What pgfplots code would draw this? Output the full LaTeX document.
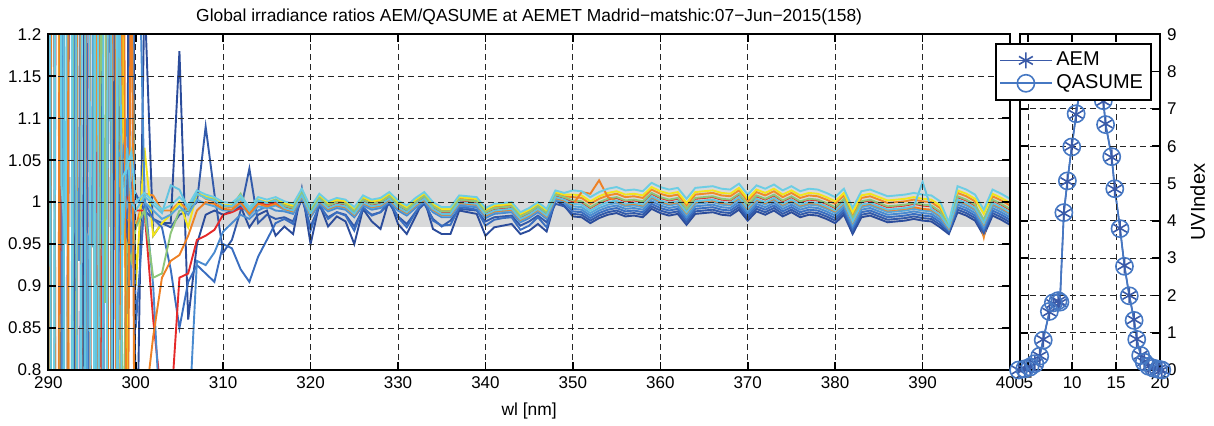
\documentclass[border=0pt]{standalone}
\usepackage{fontspec}
\setmainfont{Liberation Sans}
\usepackage{pgfplots}
\usepackage{pgfplotstable}
\pgfplotsset{compat=1.18}
\definecolor{c1}{RGB}{43,76,155}
\definecolor{c2}{RGB}{50,90,170}
\definecolor{c3}{RGB}{58,110,192}
\definecolor{c4}{RGB}{74,139,208}
\definecolor{c5}{RGB}{85,165,218}
\definecolor{c6}{RGB}{98,195,224}
\definecolor{c7}{RGB}{108,205,228}
\definecolor{c8}{RGB}{141,198,122}
\definecolor{c9}{RGB}{243,229,28}
\definecolor{c10}{RGB}{240,138,42}
\definecolor{c11}{RGB}{238,128,36}
\definecolor{c12}{RGB}{229,42,42}
\definecolor{bandgray}{RGB}{216,217,218}
\definecolor{uvA}{RGB}{58,90,168}
\definecolor{uvQ}{RGB}{70,120,195}

\pgfplotstableread{
wl a b c d e f g h i j k l
290 -0.5 2.4 -0.3 2.6 -0.6 2.3 -0.4 2.5 -0.2 2.2 -0.5 2.7
290.5 2.5 -0.4 -0.6 2.3 2.2 -0.5 -0.2 -0.3 2.6 2.5 2.4 -0.4
291 2.8 -0.6 2.5 -0.5 -0.3 2.6 2.7 -0.5 2.3 -0.4 -0.3 2.2
291.5 -0.3 2.6 2.2 0.6 -0.5 2.9 1.02 2.3 -0.5 -0.6 2.6 0.878
292 -0.6 2.2 -0.4 2.5 2.7 -0.4 0.95 2.6 -0.4 2.4 2.5 -0.5
292.5 2.2 -0.5 2.6 2.7 2.4 -0.2 2.5 -0.6 2.5 -0.3 -0.4 2.4
293 2.6 1.02 -0.5 0.97 -0.6 2.4 -0.5 2.2 -0.6 2.7 -0.6 2.6
293.5 -0.4 -0.3 -0.2 0.93 2.3 -0.6 -0.6 -0.4 2.8 2.5 2.3 -0.3
294 0.95 2.5 2.4 2.2 -0.4 -0.3 2.3 -0.2 2.2 -0.5 -0.5 -0.6
294.5 2.4 2.8 0.9 -0.4 0.96 2.7 2.6 2.7 -0.3 -0.2 2.8 2.5
295 -0.5 -0.2 -0.6 -0.6 0.95 2.2 -0.4 2.4 -0.5 2.3 -0.2 -0.4
295.5 -0.2 -0.6 0.91 2.4 2.6 0.7 2.2 -0.5 2.4 0.75 -0.4 1.06
296 2.7 2.3 0.93 2.8 -0.5 -0.5 -0.5 1.35 -0.4 2.6 2.5 0.95
296.5 2.1 -0.4 2.5 -0.2 -0.2 2.5 -0.3 0.88 2.6 -0.4 2.7 -0.5
297 -0.4 -0.5 -0.3 1.7 2.5 2.3 2.4 2.6 2.3 -0.5 -0.3 2.3
297.5 1.05 2.6 2.2 -0.5 2.1 -0.4 2.8 -0.4 -0.6 2.2 2.4 2.6
298 2.3 1.9 0.94 1.06 0.6 1.35 0.3 1.45 0.4 1.0 -0.6 1.3
298.5 -0.6 0.5 1.05 1.05 0.97 0.95 1.03 0.7 1.25 1.14 1.7 0.97
299 0.9 1.05 0.98 1.1 1.0 1.065 1.04 0.95 0.7 0.98 0.5 1.0
299.5 2.0 0.95 1.3 0.9 0.98 1.0 1.06 0.93 1.3 1.0 1.4 1.02
300 0.6 1.01 0.85 1.5 1.0 0.99 1.0 0.97 0.9 0.97 0.4 0.99
301 1.25 0.99 1.00 1.01 1.00 1.007 1.011 0.99 1.065 1.01 0.75 0.99
302 0.96 0.98 0.98 0.90 0.99 0.997 1.001 0.91 0.96 1.008 0.84 0.86
303 0.975 0.975 0.97 0.70 0.98 0.987 0.991 0.915 0.975 0.99 0.91 0.76
304 0.975 0.97 0.92 0.70 0.985 1.02 0.996 0.963 0.985 0.99 0.93 0.75
305 1.18 0.985 0.85 0.75 0.995 1.015 1.006 0.99 1.0 1.0 0.937 0.91
306 0.86 0.99 0.905 0.72 0.985 0.992 0.996 0.99 0.97 0.99 0.96 0.915
307 0.95 1.0 0.925 0.93 1.003 1.01 1.014 1.01 1.01 1.012 0.99 0.955
308 0.985 1.09 0.915 0.925 0.998 1.005 1.009 1.005 1.007 1.004 1.0 0.96
309 0.99 1.01 0.905 0.94 0.995 1.002 1.006 1.003 1.004 1.001 0.998 0.967
310 0.985 0.94 0.95 0.965 0.99 0.996 1.0 0.995 0.997 0.995 0.992 0.985
311 0.99 0.955 0.945 0.975 0.99 0.995 0.999 0.995 0.996 0.994 0.991 0.988
312 0.995 0.99 0.92 0.985 0.998 1.004 1.008 1.01 1.005 1.004 1.0 0.993
313 0.97 1.04 0.905 0.98 0.984 0.99 0.994 0.99 0.991 0.989 0.986 0.99
314 0.985 0.975 0.935 0.99 0.995 1.002 1.006 1.002 1.003 1.002 0.998 1.0
315 0.99 0.985 0.955 0.995 0.993 0.999 1.003 0.999 1.0 0.998 0.995 0.996
316 0.96 0.98 0.975 0.99 0.996 1.002 1.006 1.003 1.003 1.002 0.998 1.0
317 0.971 0.982 0.980 0.989 0.991 0.993 1.001 0.996 0.999 0.997 0.992 0.994
318 0.962 0.977 0.974 0.986 0.988 0.990 0.998 0.993 0.996 0.994 0.989 0.991
319 1.016 1.004 1.010 1.004 1.006 1.008 1.016 1.011 1.014 1.012 1.007 1.009
320 0.950 0.971 0.966 0.982 0.984 0.986 0.994 0.989 0.992 0.990 0.985 0.987
321 0.998 0.995 0.998 0.998 1.000 1.002 1.010 1.005 1.008 1.006 1.001 1.003
322 0.971 0.982 0.980 0.989 0.991 0.993 1.001 0.996 0.999 0.997 0.992 0.994
323 0.983 0.988 0.988 0.993 0.995 0.997 1.005 1.000 1.003 1.001 0.996 0.998
324 0.977 0.985 0.984 0.991 0.993 0.995 1.003 0.998 1.001 0.999 0.994 0.996
325 0.950 0.971 0.966 0.982 0.984 0.986 0.994 0.989 0.992 0.990 0.985 0.987
326 0.992 0.992 0.994 0.996 0.998 1.000 1.008 1.003 1.006 1.004 0.999 1.001
327 0.977 0.985 0.984 0.991 0.993 0.995 1.003 0.998 1.001 0.999 0.994 0.996
328 0.968 0.988 0.988 0.993 0.995 0.997 1.005 1.000 1.003 1.001 0.996 0.998
329 1.004 0.998 1.002 1.000 1.002 1.004 1.012 1.007 1.010 1.008 1.003 1.005
330 0.974 0.983 0.982 0.990 0.992 0.994 1.002 0.997 1.000 0.998 0.993 0.995
331 0.962 0.974 0.970 0.984 0.986 0.988 0.996 0.991 0.994 0.992 0.987 0.989
332 0.983 0.988 0.988 0.993 0.995 0.997 1.005 1.000 1.003 1.001 0.996 0.998
333 1.004 0.998 1.002 1.000 1.002 1.004 1.012 1.007 1.010 1.008 1.003 1.005
334 0.968 0.980 0.978 0.988 0.990 0.992 1.000 0.995 0.998 0.996 0.991 0.993
335 0.962 0.971 0.972 0.982 0.984 0.986 0.994 0.989 0.992 0.990 0.985 0.987
336 0.962 0.978 0.973 0.982 0.984 0.986 0.994 0.989 0.992 0.990 0.985 0.987
337 0.990 0.992 0.994 0.996 0.998 1.000 1.008 1.003 1.006 1.004 0.999 1.001
338 0.988 0.991 0.993 0.995 0.997 0.999 1.007 1.002 1.005 1.003 0.998 1.000
339 0.986 0.990 0.991 0.994 0.996 0.998 1.006 1.001 1.004 1.002 0.997 0.999
340 0.960 0.977 0.972 0.981 0.983 0.985 0.993 0.988 0.991 0.989 0.984 0.986
341 0.970 0.982 0.979 0.986 0.988 0.990 0.998 0.993 0.996 0.994 0.989 0.991
342 0.972 0.983 0.981 0.987 0.989 0.991 0.999 0.994 0.997 0.995 0.990 0.992
343 0.974 0.984 0.982 0.988 0.990 0.992 1.000 0.995 0.998 0.996 0.991 0.993
344 0.962 0.972 0.967 0.976 0.978 0.980 0.988 0.983 0.986 0.984 0.979 0.981
345 0.966 0.977 0.972 0.981 0.983 0.985 0.993 0.988 0.991 0.989 0.984 0.986
346 0.974 0.984 0.982 0.988 0.990 0.992 1.000 0.995 0.998 0.996 0.991 0.993
347 0.965 0.976 0.970 0.980 0.982 0.984 0.992 0.987 0.990 0.988 0.983 0.985
348 1.002 0.998 1.003 1.002 1.004 1.006 1.014 1.009 1.012 1.010 1.005 1.007
349 0.996 0.995 0.999 0.999 1.001 1.003 1.011 1.006 1.009 1.007 1.002 1.004
350 0.983 0.986 0.989 0.992 0.995 0.998 1.014 1.002 1.009 1.006 0.997 1.001
351 0.982 0.985 0.988 0.991 0.994 0.997 1.013 1.001 1.008 1.005 1.012 1.000
352 0.975 0.978 0.981 0.984 0.987 0.990 1.006 0.994 1.001 0.998 1.010 0.993
353 0.981 0.984 0.987 0.990 0.993 0.996 1.012 1.000 1.007 1.004 1.026 0.999
354 0.985 0.988 0.991 0.994 0.997 1.000 1.016 1.004 1.011 1.008 1.006 1.003
355 0.987 0.990 0.993 0.996 0.999 1.002 1.018 1.006 1.013 1.010 1.001 1.005
356 0.983 0.986 0.989 0.992 0.995 0.998 1.014 1.002 1.009 1.006 0.997 1.001
357 0.984 0.987 0.990 0.993 0.996 0.999 1.015 1.003 1.010 1.007 0.998 1.002
358 0.982 0.985 0.988 0.991 0.994 0.997 1.013 1.001 1.008 1.005 0.996 1.000
359 0.992 0.995 0.998 1.001 1.004 1.007 1.023 1.011 1.018 1.015 1.006 1.010
360 0.987 0.990 0.993 0.996 0.999 1.002 1.018 1.006 1.013 1.010 1.001 1.005
361 0.984 0.987 0.990 0.993 0.996 0.999 1.015 1.003 1.010 1.007 0.998 1.002
362 0.986 0.989 0.992 0.995 0.998 1.001 1.017 1.005 1.012 1.009 1.000 1.004
363 0.973 0.976 0.979 0.982 0.985 0.988 1.004 0.992 0.999 0.996 0.987 0.991
364 0.986 0.989 0.992 0.995 0.998 1.001 1.017 1.005 1.012 1.009 1.000 1.004
365 0.987 0.990 0.993 0.996 0.999 1.002 1.018 1.006 1.013 1.010 1.001 1.005
366 0.988 0.991 0.994 0.997 1.000 1.003 1.019 1.007 1.014 1.011 1.002 1.006
367 0.985 0.988 0.991 0.994 0.997 1.000 1.016 1.004 1.011 1.008 0.999 1.003
368 0.984 0.987 0.990 0.993 0.996 0.999 1.015 1.003 1.010 1.007 0.998 1.002
369 0.991 0.994 0.997 1.000 1.003 1.006 1.022 1.010 1.017 1.014 1.005 1.009
370 0.978 0.981 0.984 0.987 0.990 0.993 1.009 0.997 1.004 1.001 0.992 0.996
371 0.989 0.992 0.995 0.998 1.001 1.004 1.020 1.008 1.015 1.012 1.003 1.007
372 0.985 0.988 0.991 0.994 0.997 1.000 1.016 1.004 1.011 1.008 0.999 1.003
373 0.990 0.993 0.996 0.999 1.002 1.005 1.021 1.009 1.016 1.013 1.004 1.008
374 0.983 0.986 0.989 0.992 0.995 0.998 1.014 1.002 1.009 1.006 0.997 1.001
375 0.988 0.991 0.994 0.997 1.000 1.003 1.019 1.007 1.014 1.011 1.002 1.006
376 0.982 0.985 0.988 0.991 0.994 0.997 1.013 1.001 1.008 1.005 0.996 1.000
377 0.985 0.988 0.991 0.994 0.997 1.000 1.016 1.004 1.011 1.008 0.999 1.003
378 0.984 0.987 0.990 0.993 0.996 0.999 1.015 1.003 1.010 1.007 0.998 1.002
379 0.980 0.983 0.986 0.989 0.992 0.995 1.011 0.999 1.006 1.003 0.994 0.998
380 0.975 0.978 0.981 0.984 0.987 0.990 1.006 0.994 1.001 0.998 0.989 0.993
381 0.985 0.988 0.991 0.994 0.997 1.000 1.016 1.004 1.011 1.008 0.999 1.003
382 0.962 0.965 0.968 0.971 0.974 0.977 0.993 0.981 0.988 0.985 0.976 0.980
383 0.982 0.985 0.988 0.991 0.994 0.997 1.013 1.001 1.008 1.005 0.996 1.000
384 0.984 0.987 0.990 0.993 0.996 0.999 1.015 1.003 1.010 1.007 0.998 1.002
385 0.980 0.983 0.986 0.989 0.992 0.995 1.011 0.999 1.006 1.003 0.994 0.998
386 0.976 0.979 0.982 0.985 0.988 0.991 1.007 0.995 1.002 0.999 0.990 0.994
387 0.977 0.980 0.983 0.986 0.989 0.992 1.008 0.996 1.003 1.000 0.991 0.995
388 0.978 0.981 0.984 0.987 0.990 0.993 1.009 0.997 1.004 1.001 0.992 0.996
389 0.980 0.983 0.986 0.989 0.992 0.995 1.011 0.999 1.006 1.003 0.994 0.998
390 0.978 0.981 0.984 0.987 0.990 1.024 1.009 0.997 1.004 1.001 0.992 0.996
391 0.977 0.980 0.983 0.986 0.989 0.992 1.008 0.996 1.003 1.000 0.991 0.995
392 0.970 0.973 0.976 0.979 0.982 0.985 1.001 0.989 0.996 0.993 0.984 0.988
393 0.962 0.964 0.966 0.967 0.968 0.970 0.976 0.972 0.975 0.973 0.969 0.971
394 0.988 0.991 0.994 0.997 1.000 1.003 1.019 1.007 1.014 1.011 1.002 1.006
395 0.984 0.987 0.990 0.993 0.996 0.999 1.015 1.003 1.010 1.007 0.998 1.002
396 0.978 0.981 0.984 0.987 0.990 0.993 1.009 0.997 1.004 1.001 0.992 0.996
397 0.960 0.963 0.966 0.969 0.972 0.975 0.991 0.979 0.986 0.958 0.974 0.978
398 0.984 0.987 0.990 0.993 0.996 0.999 1.015 1.003 1.010 1.007 0.998 1.002
399 0.979 0.982 0.985 0.988 0.991 0.994 1.010 0.998 1.005 1.002 0.993 0.997
400 0.973 0.976 0.979 0.982 0.985 0.988 1.004 0.992 0.999 0.996 0.987 0.991
}\spectra

\pgfplotsset{
  mystyle/.style={
    scale only axis,
    axis on top,
    grid=major,
    major grid style={black!85, dash pattern=on 3pt off 2pt, line width=0.5pt},
    axis line style={line width=1pt},
    every tick/.style={black, line width=0.8pt},
    major tick length=4pt,
    tick label style={font=\fontsize{8.5}{10}\selectfont},
    label style={font=\fontsize{8.7}{10}\selectfont},
    title style={font=\fontsize{8.7}{10}\selectfont, yshift=-5pt},
    /pgf/number format/assume math mode=true,
  }
}

\begin{document}
\begin{tikzpicture}
\path[use as bounding box] (0,0) rectangle (607pt,212.5pt);
\begin{axis}[
  mystyle,
  at={(24.15pt,27.5pt)}, anchor=south west,
  width=480.85pt, height=167.85pt,
  xmin=290, xmax=400, ymin=0.8, ymax=1.2,
  xtick={290,300,310,320,330,340,350,360,370,380,390,400},
  ytick={0.8,0.85,0.9,0.95,1,1.05,1.1,1.15,1.2},
  yticklabels={0.8,0.85,0.9,0.95,1,1.05,1.1,1.15,1.2},
  xlabel={wl [nm]},
  title={Global irradiance ratios AEM/QASUME at AEMET Madrid−matshic:07−Jun−2015(158)},
  every axis plot/.append style={line width=0.95pt},
]
\addplot[draw=none, fill=bandgray] coordinates {(291.5,0.97) (400,0.97) (400,1.03) (291.5,1.03)} -- cycle;
\addplot[c1] table[x=wl,y=a] {\spectra};
\addplot[c10] table[x=wl,y=j] {\spectra};
\addplot[c2] table[x=wl,y=b] {\spectra};
\addplot[c9] table[x=wl,y=i] {\spectra};
\addplot[c3] table[x=wl,y=c] {\spectra};
\addplot[c12] table[x=wl,y=l] {\spectra};
\addplot[c4] table[x=wl,y=d] {\spectra};
\addplot[c8] table[x=wl,y=h] {\spectra};
\addplot[c5] table[x=wl,y=e] {\spectra};
\addplot[c11] table[x=wl,y=k] {\spectra};
\addplot[c6] table[x=wl,y=f] {\spectra};
\addplot[c7] table[x=wl,y=g] {\spectra};
\end{axis}

\begin{axis}[
  mystyle,
  at={(509.75pt,27.5pt)}, anchor=south west,
  width=70.25pt, height=167.85pt,
  xmin=4, xmax=20, ymin=0, ymax=9,
  xtick={5,10,15,20},
  ytick={0,1,2,3,4,5,6,7,8,9},
  yticklabel pos=right,
  ylabel near ticks,
  ylabel={UVIndex},
  clip=false,
  legend cell align=left,
  legend image code/.code={\draw[mark repeat=2,mark phase=2] plot coordinates {(0cm,0cm) (0.45cm,0cm) (0.9cm,0cm)};},
  legend style={at={(0.943,0.974)}, anchor=north east, draw=black, line width=1pt, fill=white,
    font=\fontsize{10}{12}\selectfont, row sep=-1pt, inner sep=2pt},
]
\addplot[uvA, mark=asterisk, mark size=4pt, line width=0.8pt, mark options={line width=0.8pt}] coordinates {
(3.9,0.00) (4.6,0.03) (5.2,0.08) (5.75,0.18) (6.3,0.38) (6.7,0.82) (7.4,1.55) (7.85,1.78) (8.4,1.85) (8.6,1.80)
(9.05,4.2) (9.45,5.05) (9.95,6.0) (10.45,6.85) (10.95,7.65) (11.45,8.0) (11.95,8.3) (12.45,8.4) (12.95,8.3) (13.3,7.9)
(13.55,7.2) (13.8,6.6) (14.5,5.7) (14.85,4.85) (15.45,3.8) (15.95,2.8) (16.5,2.0) (17.05,1.35) (17.35,0.83) (17.8,0.4)
(18.2,0.22) (18.7,0.1) (19.25,0.05) (19.8,0.02) (20.2,0.0)};
\addplot[uvQ, mark=o, mark size=4.3pt, line width=0.8pt, mark options={line width=0.8pt}] coordinates {
(3.9,0.00) (4.6,0.03) (5.2,0.08) (5.75,0.17) (6.3,0.37) (6.7,0.80) (7.4,1.57) (7.85,1.80) (8.4,1.86) (8.6,1.82)
(9.05,4.22) (9.45,5.07) (9.95,5.98) (10.45,6.87) (10.95,7.66) (11.45,8.02) (11.95,8.28) (12.45,8.38) (12.95,8.32) (13.3,7.88)
(13.55,7.22) (13.8,6.58) (14.5,5.72) (14.85,4.86) (15.45,3.79) (15.95,2.78) (16.5,1.99) (17.05,1.33) (17.35,0.82) (17.8,0.39)
(18.2,0.21) (18.7,0.1) (19.25,0.05) (19.8,0.02) (20.2,0.0)};
\legend{AEM,QASUME}
\end{axis}
\end{tikzpicture}
\end{document}
